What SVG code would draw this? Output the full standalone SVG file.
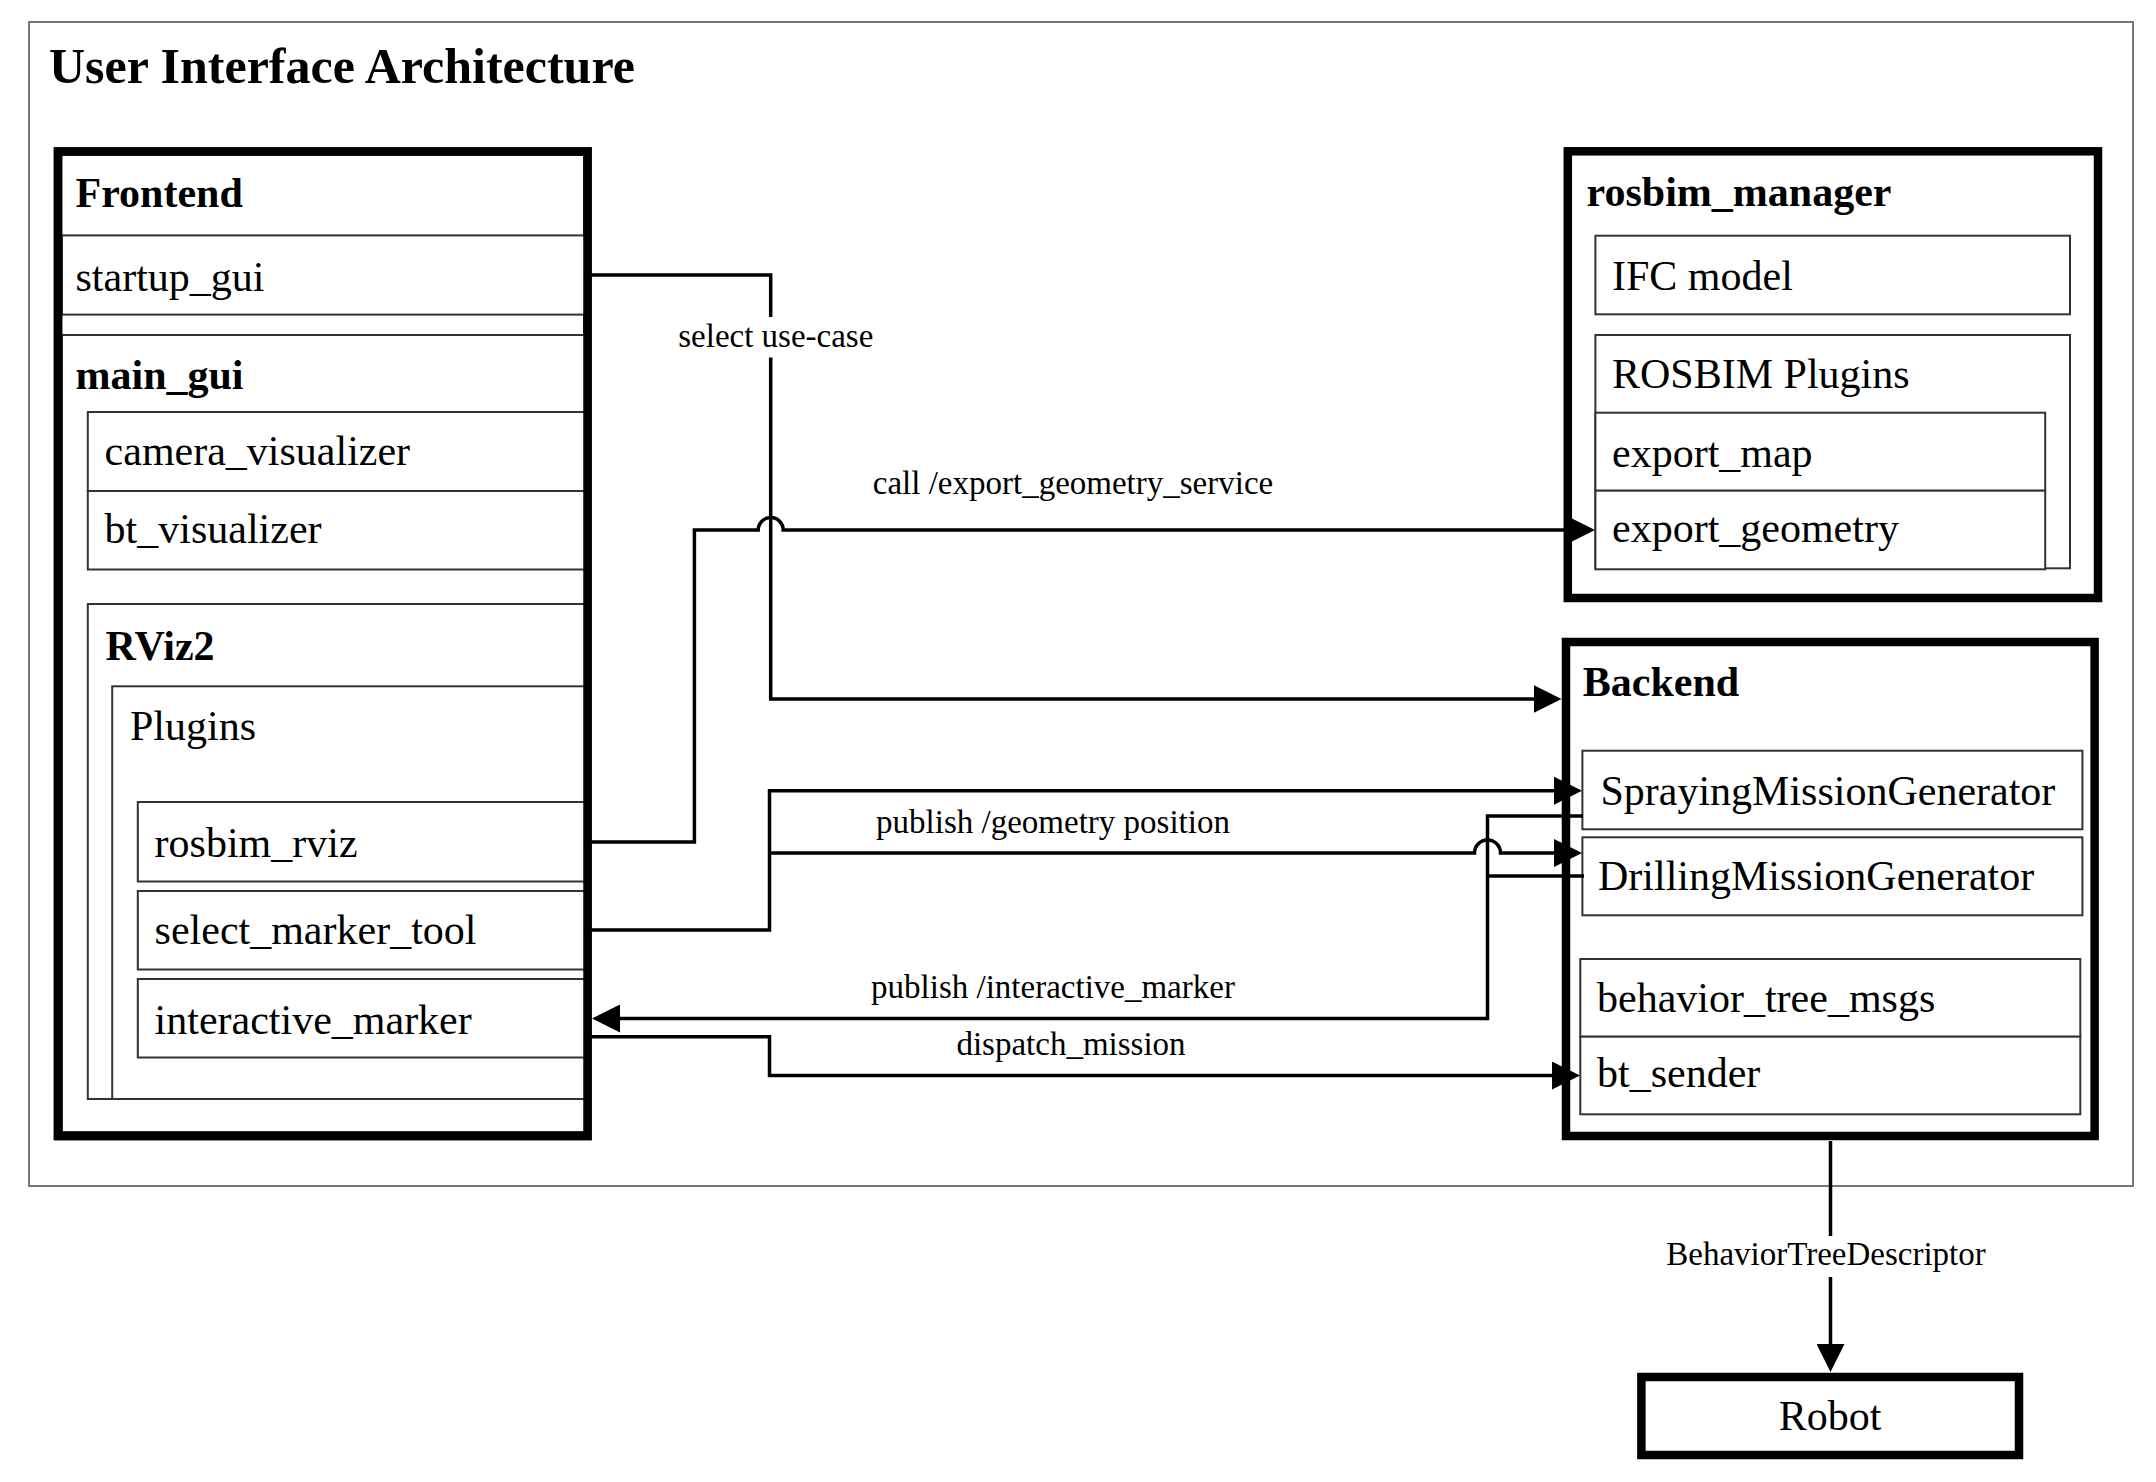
<svg xmlns="http://www.w3.org/2000/svg" width="2156" height="1482" viewBox="0 0 2156 1482">
<style>
text{font-family:"Liberation Serif","Times New Roman",serif;fill:#000}
.title{font-size:50px;font-weight:bold}
.hdr{font-size:42px;font-weight:bold}
.lbl{font-size:42px}
.elbl{font-size:33px}
.thick{fill:#fff;stroke:#000;stroke-width:8.5}
.thin{fill:#fff;stroke:#333;stroke-width:2}
.frame{fill:#fff;stroke:#777;stroke-width:2}
.edge{fill:none;stroke:#000;stroke-width:3.5}
</style>
<defs>
<marker id="arr" markerUnits="userSpaceOnUse" markerWidth="28" markerHeight="28" refX="8" refY="14" orient="auto">
<path d="M0,0 L28,14 L0,28 Z" fill="#000"/>
</marker>
</defs>
<rect width="2156" height="1482" fill="#fff"/>
<g id="frame">
<rect class="frame" x="29" y="22" width="2104" height="1164"/>
<text class="title" x="49" y="83">User Interface Architecture</text>
</g>
<g id="frontend">
<rect class="thick" x="58" y="151.5" width="529.5" height="984.5"/>
<text class="hdr" x="75.5" y="206.5">Frontend</text>
<g id="startup_gui">
<rect class="thin" x="62" y="235.4" width="525" height="79.2"/>
<text class="lbl" x="75.5" y="291">startup_gui</text>
</g>
<g id="main_gui">
<rect class="thin" x="62" y="335" width="525" height="797"/>
<text class="hdr" x="75.5" y="388.5">main_gui</text>
<g id="camera_visualizer">
<rect class="thin" x="87.8" y="412" width="499" height="79"/>
<text class="lbl" x="104.6" y="465">camera_visualizer</text>
</g>
<g id="bt_visualizer">
<rect class="thin" x="87.8" y="491" width="499" height="78.5"/>
<text class="lbl" x="104.6" y="543">bt_visualizer</text>
</g>
<g id="rviz2">
<rect class="thin" x="87.8" y="604" width="499" height="495"/>
<text class="hdr" x="105.6" y="659.5">RViz2</text>
<g id="plugins">
<rect class="thin" x="112.2" y="686.3" width="475" height="412.7"/>
<text class="lbl" x="130" y="740">Plugins</text>
<g id="rosbim_rviz">
<rect class="thin" x="137.8" y="802" width="449" height="79.5"/>
<text class="lbl" x="154.6" y="856.6">rosbim_rviz</text>
</g>
<g id="select_marker_tool">
<rect class="thin" x="137.8" y="891" width="449" height="78.5"/>
<text class="lbl" x="154.6" y="944">select_marker_tool</text>
</g>
<g id="interactive_marker">
<rect class="thin" x="137.8" y="979" width="449" height="78.5"/>
<text class="lbl" x="154.6" y="1033.8">interactive_marker</text>
</g>
</g>
</g>
</g>
<rect x="58" y="151.5" width="529.5" height="984.5" fill="none" stroke="#000" stroke-width="8.5"/>
</g>
<g id="rosbim_manager">
<rect class="thick" x="1567.8" y="151.3" width="530.2" height="446.7"/>
<text class="hdr" x="1586.6" y="206">rosbim_manager</text>
<g id="ifc_model">
<rect class="thin" x="1595.4" y="235.7" width="474.6" height="78.6"/>
<text class="lbl" x="1612" y="290">IFC model</text>
</g>
<g id="rosbim_plugins">
<rect class="thin" x="1595.4" y="335" width="474.6" height="233.3"/>
<text class="lbl" x="1612" y="388.3">ROSBIM Plugins</text>
<g id="export_map">
<rect class="thin" x="1595.4" y="412.7" width="449.8" height="78"/>
<text class="lbl" x="1612" y="466.7">export_map</text>
</g>
<g id="export_geometry">
<rect class="thin" x="1595.4" y="490.7" width="449.8" height="78.6"/>
<text class="lbl" x="1612" y="541.7">export_geometry</text>
</g>
</g>
</g>
<g id="backend">
<rect class="thick" x="1566" y="642" width="528.6" height="494"/>
<text class="hdr" x="1582.8" y="696">Backend</text>
<g id="spraying">
<rect class="thin" x="1582.4" y="750.7" width="500" height="78.6"/>
<text class="lbl" x="1600.4" y="805">SprayingMissionGenerator</text>
</g>
<g id="drilling">
<rect class="thin" x="1582.4" y="837.3" width="500" height="78"/>
<text class="lbl" x="1598" y="890">DrillingMissionGenerator</text>
</g>
<g id="behavior_tree_msgs">
<rect class="thin" x="1580.3" y="959" width="500" height="77.7"/>
<text class="lbl" x="1597" y="1011.7">behavior_tree_msgs</text>
</g>
<g id="bt_sender">
<rect class="thin" x="1580.3" y="1036.7" width="500" height="77.6"/>
<text class="lbl" x="1597" y="1086.7">bt_sender</text>
</g>
</g>
<g id="robot">
<rect class="thick" x="1641.4" y="1377" width="377.6" height="78"/>
<text class="lbl" x="1830" y="1430" text-anchor="middle">Robot</text>
</g>
<g id="connectors">
<path class="edge" d="M591.8,275 H770.7 V317"/>
<path class="edge" d="M770.7,357.5 V699 H1541.5" marker-end="url(#arr)"/>
<text class="elbl" x="775.8" y="347.3" text-anchor="middle">select use-case</text>
<path class="edge" d="M591.8,842 H694.4 V530 H758.2 A12.5,12.5 0 0 1 783.2,530 H1575" marker-end="url(#arr)"/>
<text class="elbl" x="1073" y="494" text-anchor="middle">call /export_geometry_service</text>
<path class="edge" d="M591.8,930 H769.5 V790.7 H1562" marker-end="url(#arr)"/>
<path class="edge" d="M769.5,853 H1474.5 A13,13 0 0 1 1500.5,853 H1562" marker-end="url(#arr)"/>
<text class="elbl" x="1053" y="833.3" text-anchor="middle">publish /geometry position</text>
<path class="edge" d="M1583,816 H1487.5 V1018.5 H612" marker-end="url(#arr)"/>
<path class="edge" d="M1584,876 H1487.5"/>
<text class="elbl" x="1053" y="998.3" text-anchor="middle">publish /interactive_marker</text>
<path class="edge" d="M591.8,1036.7 H769.5 V1075.5 H1560" marker-end="url(#arr)"/>
<text class="elbl" x="1071" y="1055" text-anchor="middle">dispatch_mission</text>
<path class="edge" d="M1830.5,1141 V1236"/>
<path class="edge" d="M1830.5,1277 V1352" marker-end="url(#arr)"/>
<text class="elbl" x="1826" y="1265" text-anchor="middle">BehaviorTreeDescriptor</text>
</g>
</svg>
